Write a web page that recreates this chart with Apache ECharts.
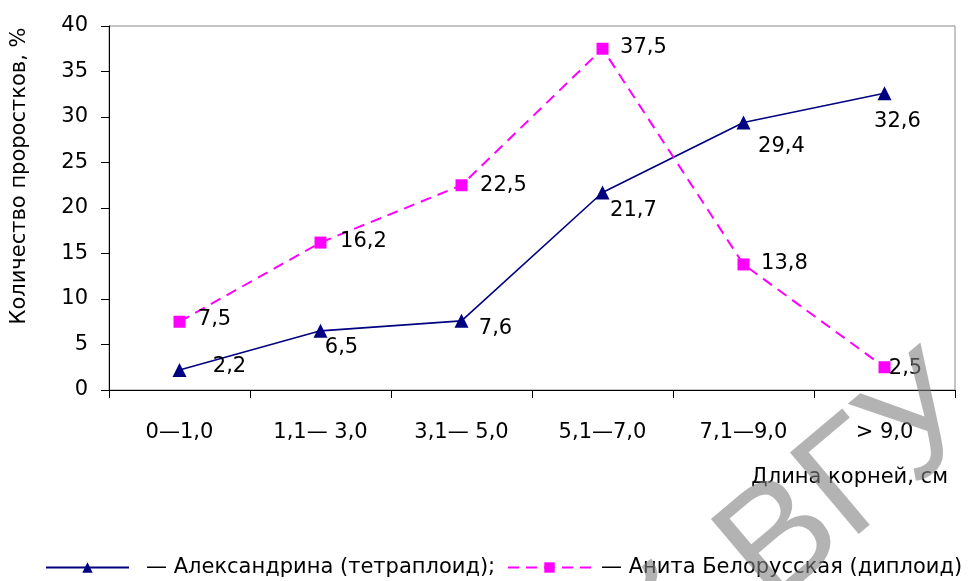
<!DOCTYPE html>
<html>
<head>
<meta charset="utf-8">
<script src="https://cdn.jsdelivr.net/npm/echarts@6/dist/echarts.min.js"></script>
<style>html,body{margin:0;padding:0;background:#fff;}#c{width:970px;height:581px;}</style>
</head>
<body>
<div id="c"></div>
<script>
const categories = ['0—1,0', '1,1— 3,0', '3,1— 5,0', '5,1—7,0', '7,1—9,0', '> 9,0'];
const yTicks = [0, 5, 10, 15, 20, 25, 30, 35, 40];
const seriesNames = ['Александрина (тетраплоид);', 'Анита Белорусская (диплоид)'];
const alexandrina = [2.2, 6.5, 7.6, 21.7, 29.4, 32.6];
const anita = [7.5, 16.2, 22.5, 37.5, 13.8, 2.5];
// label offsets (style only)
const alexOffsets = [[50, -3], [21, 17], [34, 8], [31, 18], [38, 24], [13, 28]];
const anitaOffsets = [[35, -2], [43, -1], [42, 0], [41, -1], [41, -1], [21, 1]];

const FONT = 'DejaVu Sans';
const FS = 21;
const fmt = v => String(v).replace('.', ',');

function build(values, offsets) {
  return values.map((v, i) => ({
    value: v,
    label: { offset: offsets[i] }
  }));
}

function legendFor(name, left, padLeft) {
  return {
    left: left, top: 557, padding: 0,
    itemWidth: 83, itemHeight: 13,
    textStyle: { color: '#000', fontSize: 21, fontFamily: FONT, padding: [0, 0, 0, padLeft] },
    formatter: n => '— ' + n,
    data: [name]
  };
}

const chart = echarts.init(document.getElementById('c'), null, { renderer: 'canvas' });
chart.setOption({
  animation: false,
  backgroundColor: '#fff',
  textStyle: { fontFamily: FONT },
  grid: { left: 109, right: 15, top: 26, bottom: 191, show: true, borderColor: '#8a8a8a', borderWidth: 1, backgroundColor: 'transparent' },
  legend: [legendFor(seriesNames[0], 45, 12), legendFor(seriesNames[1], 507, 5)],
  xAxis: {
    type: 'category',
    data: categories,
    boundaryGap: true,
    axisLine: { lineStyle: { color: '#000', width: 1 } },
    axisTick: { show: true, length: 8, lineStyle: { color: '#000' } },
    axisLabel: { color: '#000', fontSize: FS, fontFamily: FONT, margin: 32 },
    splitLine: { show: false }
  },
  yAxis: {
    type: 'value',
    min: yTicks[0], max: yTicks[yTicks.length - 1], interval: 5,
    axisLine: { show: true, lineStyle: { color: '#000', width: 1 } },
    axisTick: { show: true, length: 8, lineStyle: { color: '#000' } },
    axisLabel: { color: '#000', fontSize: FS, fontFamily: FONT, margin: 21 },
    splitLine: { show: false }
  },
  series: [
    {
      name: seriesNames[0], type: 'line',
      data: build(alexandrina, alexOffsets),
      symbol: 'triangle', symbolSize: 14, showAllSymbol: true,
      itemStyle: { color: '#000080' },
      lineStyle: { color: '#000080', width: 1.6 },
      label: { show: true, position: 'inside', color: '#000', fontSize: FS, fontFamily: FONT, formatter: p => fmt(p.value) },
      z: 3
    },
    {
      name: seriesNames[1], type: 'line',
      data: build(anita, anitaOffsets),
      symbol: 'rect', symbolSize: 12, showAllSymbol: true,
      itemStyle: { color: '#FF00FF' },
      lineStyle: { color: '#FF00FF', width: 2, type: [11, 7] },
      label: { show: true, position: 'inside', color: '#000', fontSize: FS, fontFamily: FONT, formatter: p => fmt(p.value) },
      z: 4
    }
  ],
  graphic: [
    { type: 'text', x: 20, y: 176, rotation: Math.PI / 2,
      style: { text: 'Количество проростков, %', font: FS + 'px "' + FONT + '"', fill: '#000', align: 'center', verticalAlign: 'middle' } },
    { type: 'text', x: 948, y: 478,
      style: { text: 'Длина корней, см', font: FS + 'px "' + FONT + '"', fill: '#000', align: 'right', verticalAlign: 'middle' } },
    { type: 'text', x: 961, y: 392, rotation: 0.70, z: 100,
      style: { text: 'Репозиторий ВГУ', font: '155px "Liberation Sans"', fill: 'rgba(128,128,128,0.6)', align: 'right', verticalAlign: 'middle' } }
  ]
});
</script>
</body>
</html>
